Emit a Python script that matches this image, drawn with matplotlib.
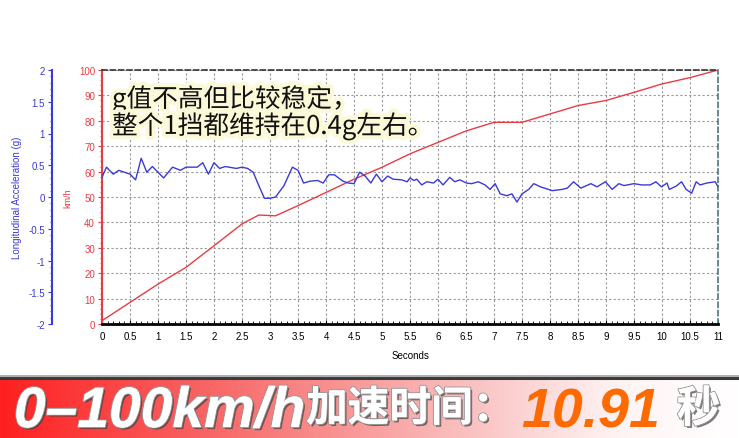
import numpy as np
import matplotlib.pyplot as plt
from matplotlib import patheffects as pe
from matplotlib.ticker import MultipleLocator
from matplotlib.colors import LinearSegmentedColormap
from matplotlib.lines import Line2D

plt.rcParams['font.family'] = ['Liberation Sans', 'Noto Sans CJK SC']

# speed (km/h) vs time (s)
speed_t = [0, 0.5, 1.0, 1.5, 2.0, 2.5, 2.8, 3.1, 3.5, 4.0, 4.5, 5.0, 5.5,
           6.0, 6.5, 7.0, 7.5, 8.0, 8.5, 9.0, 9.5, 10.0, 10.5, 11.0]
speed_v = [1.3, 8.5, 15.7, 22.3, 30.8, 39.4, 42.9, 42.6, 46.6, 51.8, 57.0, 61.7, 67.0,
           71.5, 76.0, 79.4, 79.4, 82.7, 86.0, 88.0, 91.2, 94.5, 97.0, 100.0]

# longitudinal acceleration (g) vs time (s)
acc_t = [0.0, 0.08, 0.2, 0.3, 0.5, 0.6, 0.7, 0.8, 0.9, 1.1, 1.26, 1.4, 1.5, 1.7, 1.8,
         1.9, 2.0, 2.1, 2.2, 2.4, 2.5, 2.6, 2.7, 2.8, 2.9, 3.0, 3.1, 3.25, 3.4, 3.5,
         3.6, 3.72, 3.85, 3.95, 4.05, 4.15, 4.3, 4.4, 4.5, 4.6, 4.7, 4.8, 4.9, 5.0,
         5.1, 5.2, 5.35, 5.45, 5.5, 5.57, 5.62, 5.71, 5.8, 5.92, 6.0, 6.09, 6.21, 6.3,
         6.39, 6.51, 6.6, 6.72, 6.84, 6.93, 7.02, 7.11, 7.23, 7.32, 7.41, 7.5, 7.62,
         7.71, 7.83, 8.04, 8.22, 8.31, 8.42, 8.55, 8.73, 8.84, 8.99, 9.11, 9.23, 9.32,
         9.5, 9.64, 9.79, 9.89, 9.99, 10.09, 10.13, 10.25, 10.35, 10.43, 10.53, 10.61,
         10.68, 10.8, 10.95, 11.0]
acc_g = [0.31, 0.47, 0.36, 0.42, 0.36, 0.27, 0.61, 0.39, 0.48, 0.30, 0.47, 0.42, 0.47, 0.47, 0.54,
         0.36, 0.54, 0.45, 0.48, 0.45, 0.47, 0.45, 0.39, 0.18, -0.02, -0.02, 0.0, 0.18, 0.47, 0.42,
         0.22, 0.25, 0.26, 0.22, 0.35, 0.35, 0.25, 0.22, 0.21, 0.39, 0.33, 0.22, 0.36, 0.24,
         0.33, 0.28, 0.27, 0.24, 0.30, 0.26, 0.28, 0.19, 0.24, 0.22, 0.28, 0.19, 0.31, 0.24,
         0.27, 0.22, 0.21, 0.24, 0.19, 0.12, 0.21, 0.05, 0.02, 0.05, -0.08, 0.05, 0.12,
         0.21, 0.16, 0.10, 0.12, 0.14, 0.24, 0.14, 0.21, 0.16, 0.24, 0.12, 0.21, 0.18,
         0.21, 0.19, 0.19, 0.24, 0.16, 0.22, 0.12, 0.17, 0.24, 0.12, 0.06, 0.24,
         0.19, 0.22, 0.24, 0.16]

note_lines = ['g值不高但比较稳定，', '整个1挡都维持在0.4g左右。']
banner_parts = ['0–100km/h', '加速时间：', '10.91', '秒']

red = '#e83c44'
blue = '#3a3ad6'

fig = plt.figure(figsize=(7.39, 4.39), dpi=100)
W, H = 739, 439
ax = fig.add_axes([102 / W, 1 - 325 / H, 616 / W, 254 / H])

ax.plot(speed_t, speed_v, color=red, lw=1)
ax.set_xlim(0, 11)
ax.set_ylim(0, 100)
ax.xaxis.set_minor_locator(MultipleLocator(0.1))
ax.yaxis.set_major_locator(MultipleLocator(10))
ax.yaxis.set_minor_locator(MultipleLocator(2))
xt = np.arange(0, 11.01, 0.5)
ax.set_xticks(xt)
ax.set_xticklabels(['%g' % v for v in xt])
ax.grid(True, which='major', color='#999999', ls=(0, (2, 2)), lw=0.8)
ax.tick_params(axis='x', which='both', direction='in', length=3, labelsize=7, pad=5, color='black')
ax.tick_params(axis='x', which='minor', length=2)
ax.tick_params(axis='y', which='major', direction='out', length=3, labelsize=7, colors=red, pad=2)
ax.tick_params(axis='y', which='minor', direction='out', length=1.5, color=red)
ax.spines['left'].set_color(red)
ax.spines['left'].set_linewidth(1.5)
ax.spines['bottom'].set_linewidth(2)
ax.spines['top'].set_linestyle((0, (3, 2)))
ax.spines['top'].set_color('#333333')
ax.spines['top'].set_linewidth(1.2)
ax.spines['right'].set_linestyle((0, (3, 2)))
ax.spines['right'].set_color('#4c7784')
ax.spines['right'].set_linewidth(1.2)
ax.set_ylabel('km/h', color=red, fontsize=6.5)
ax.yaxis.set_label_coords((72 - 102) / 616, 0.5)
ax.set_xlabel('Seconds', fontsize=7)
ax.xaxis.set_label_coords(0.5, -(351 - 325) / 254)

ax2 = ax.twinx()
ax2.plot(acc_t, acc_g, color=blue, lw=1)
ax2.set_ylim(-2, 2)
ax2.yaxis.set_ticks_position('left')
ax2.yaxis.set_label_position('left')
ax2.spines['left'].set_position(('axes', (52 - 102) / 616))
ax2.spines['left'].set_color(blue)
ax2.spines['left'].set_linewidth(1.5)
for s in ['right', 'top', 'bottom']:
    ax2.spines[s].set_visible(False)
ax2.yaxis.set_minor_locator(MultipleLocator(0.1))
gt = np.arange(-2, 2.01, 0.5)
ax2.set_yticks(gt)
ax2.set_yticklabels(['%g' % v for v in gt])
ax2.tick_params(axis='y', which='major', direction='out', length=3, labelsize=7, colors=blue, pad=2)
ax2.tick_params(axis='y', which='minor', direction='out', length=1.5, color=blue)
ax2.set_ylabel('Longitudinal Acceleration (g)', color=blue, fontsize=7)
ax2.yaxis.set_label_coords((22 - 102) / 616, 0.5)

# note with yellow glow
glow = [pe.withStroke(linewidth=6, foreground='#fcf9d8')]
for i, line in enumerate(note_lines):
    fig.text(112 / W, 1 - (100 + 27 * i) / H, line, fontsize=18.5, color='#111111',
             family=['Noto Sans CJK SC'], va='center', ha='left', path_effects=glow)

# bottom banner
axb = fig.add_axes([0, 0, 1, 59 / H])
cmap = LinearSegmentedColormap.from_list(
    'ban', [(0, '#ff2020'), (0.3, '#f86a6a'), (0.6, '#fab8b8'), (0.84, '#fff4f4'), (1, '#ffffff')])
axb.imshow(np.linspace(0, 1, 256)[None, :], aspect='auto', cmap=cmap, extent=[0, 1, 0, 1])
axb.set_axis_off()
fig.add_artist(Line2D([0, 1], [1 - 379 / H] * 2, transform=fig.transFigure,
                      color='#3a3a3a', lw=2.2))
fig.add_artist(Line2D([0, 1], [1 - 376.5 / H] * 2, transform=fig.transFigure,
                      color='#b0b0b0', lw=1.5))

shadow = [pe.withSimplePatchShadow(offset=(1.5, -1.5), shadow_rgbFace='#404040', alpha=0.7),
          pe.withStroke(linewidth=1.5, foreground='#9a9a9a'), pe.Normal()]
base_y = 1 - 428 / H
mid_y = 1 - 410 / H
fig.text(14 / W, base_y, banner_parts[0], fontsize=41, fontweight='bold', style='italic',
         color='white', family=['Liberation Sans'], va='baseline', path_effects=shadow)
fig.text(306 / W, mid_y, banner_parts[1], fontsize=30, fontweight='heavy',
         color='white', family=['Noto Sans CJK SC'], va='center', path_effects=shadow)
fig.text(521 / W, base_y, banner_parts[2], fontsize=40, fontweight='bold', style='italic',
         color='#ff6a00', family=['Liberation Sans'], va='baseline')
fig.text(677 / W, mid_y, banner_parts[3], fontsize=31, fontweight='heavy',
         color='white', family=['Noto Sans CJK SC'], va='center', path_effects=shadow)

fig.savefig('out.png', dpi=100)
